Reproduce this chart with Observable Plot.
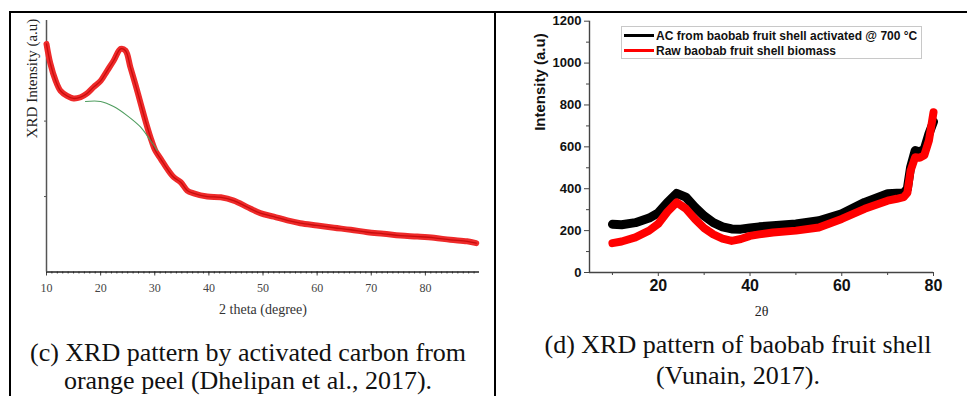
<!DOCTYPE html>
<html>
<head>
<meta charset="utf-8">
<script src="https://cdn.jsdelivr.net/npm/d3@7"></script>
<script src="https://cdn.jsdelivr.net/npm/@observablehq/plot@0.6"></script>
<style>
  html, body { margin: 0; padding: 0; background: #fff; }
  body { width: 967px; height: 396px; position: relative; overflow: hidden; }
  .line { position: absolute; background: #000; }
  .cap { position: absolute; font-family: "Liberation Serif", "Times New Roman", serif; font-size: 26px; line-height: 28px; text-align: center; color: #111; white-space: nowrap; }
  #left, #right { position: absolute; }
  #legend { position: absolute; left: 621px; top: 26px; width: 299px; height: 31px; border: 1px solid #c8c8c8; background: #fff;
    font-family: "Liberation Sans", Arial, sans-serif; font-weight: bold; font-size: 12px; color: #111; }
  #legend .row { position: absolute; left: 2px; height: 15px; display: flex; align-items: center; white-space: nowrap; }
  #legend .sw { width: 30px; height: 3px; margin-right: 2px; }
</style>
</head>
<body>
<div class="line" style="left:10px;top:11px;width:957px;height:2px"></div>
<div class="line" style="left:9px;top:11px;width:2px;height:385px"></div>
<div class="line" style="left:494px;top:11px;width:2px;height:385px"></div>
<div id="left" style="left:11px;top:12px"></div>
<div id="right" style="left:497px;top:12px"></div>
<div id="legend"></div>
<div class="cap" style="left:11px;width:474px;top:339px">(c) XRD pattern by activated carbon from<br>orange peel (Dhelipan et al., 2017).</div>
<div class="cap" style="left:496px;width:484px;top:329px;line-height:31px">(d) XRD pattern of baobab fruit shell<br>(Vunain, 2017).</div>
<script>
// ---------- Left chart (c): orange peel activated carbon ----------
const leftTheta = [10.0, 10.7, 11.7, 12.6, 13.8, 15.0, 16.3, 17.5, 18.7, 20.0, 21.2, 22.4, 23.7, 24.6, 25.5, 26.4, 27.4, 28.3, 29.2, 30.1, 31.1, 32.3, 33.5, 34.8, 36.0, 37.2, 39.7, 42.2, 44.6, 47.1, 49.5, 52.0, 54.5, 56.9, 60.0, 63.1, 66.2, 69.3, 72.3, 75.4, 78.5, 81.6, 84.6, 87.7, 89.4];
const leftIntensity = [90.7, 83, 76, 72, 70, 69, 69.5, 71, 73.5, 76, 80, 84, 88.7, 88, 81.4, 74.8, 67, 60, 53.6, 48.3, 45, 41, 37.7, 35.7, 32.4, 31.3, 30, 29.7, 28.4, 25.8, 23.4, 22, 20.5, 19.4, 18.5, 17.6, 16.8, 15.8, 15.2, 14.5, 14.1, 13.6, 12.8, 12.2, 11.5];
const baseTheta = [17.2, 20.0, 22.4, 24.9, 27.4, 29.2, 30.5];
const baseIntensity = [67.8, 67.8, 65.8, 62.2, 57.6, 52.3, 48.3];
const leftXTicks = [10, 20, 30, 40, 50, 60, 70, 80];
const leftXMinor = d3.range(10, 90, 1);
const leftYTicks = [30, 60, 90];
const leftYLabel = "XRD Intensity (a.u)";
const leftXLabel = "2 theta (degree)";

const leftData = leftTheta.map((x, i) => ({x, y: leftIntensity[i]}));
const baseData = baseTheta.map((x, i) => ({x, y: baseIntensity[i]}));

const serif = "Liberation Serif, Times New Roman, serif";
const leftPlot = Plot.plot({
  width: 483, height: 318,
  marginLeft: 35, marginRight: 15, marginTop: 8, marginBottom: 58.5,
  x: {domain: [10, 90], label: null},
  y: {domain: [0, 100], label: null},
  style: {fontFamily: serif, background: "transparent", overflow: "visible"},
  marks: [
    Plot.axisX({ticks: leftXMinor, tickSize: 2, tickFormat: () => "", stroke: "#444", label: null}),
    Plot.axisX({ticks: leftXTicks, tickSize: 4, tickPadding: 7, fontSize: 12, fill: "#444", stroke: "#444", label: null, fontFamily: serif}),
    Plot.axisY({ticks: leftYTicks, tickSize: 2, tickFormat: () => "", stroke: "#555", label: null}),
    Plot.ruleY([0], {stroke: "#222", strokeWidth: 1.6}),
    Plot.ruleX([10], {stroke: "#555", strokeWidth: 1.5}),
    Plot.line(leftData, {x: "x", y: "y", stroke: "#ee2a2a", strokeWidth: 6, curve: "catmull-rom", strokeLinejoin: "round"}),
    Plot.line(leftData, {x: "x", y: "y", stroke: "#c80c0c", strokeWidth: 1.3, curve: "catmull-rom"}),
    Plot.line(baseData, {x: "x", y: "y", stroke: "#4f9d5f", strokeWidth: 1.1, curve: "catmull-rom"}),
    Plot.text([leftXLabel], {text: d => d, frameAnchor: "bottom", dy: 41.5, fontSize: 14, fill: "#333", fontFamily: serif}),
    Plot.text([leftYLabel], {text: d => d, frameAnchor: "left", dx: -14, dy: -8, rotate: -90, fontSize: 15, fill: "#222", fontFamily: serif})
  ]
});
document.getElementById("left").appendChild(leftPlot);

// ---------- Right chart (d): baobab fruit shell ----------
const rightTheta = [10, 12, 15, 18, 20, 22, 24, 26, 28, 30, 32, 34, 36, 38, 40, 42, 45, 50, 55, 60, 65, 70, 72, 73.5, 74.3, 75, 76, 77, 78, 79, 80];
const acIntensity = [230, 228, 238, 260, 285, 335, 378, 360, 312, 270, 238, 218, 208, 207, 213, 218, 223, 232, 247, 280, 335, 376, 378, 380, 400, 502, 582, 575, 590, 662, 720];
const rawIntensity = [140, 148, 168, 200, 233, 290, 335, 305, 255, 212, 182, 162, 151, 160, 175, 182, 191, 200, 215, 256, 304, 343, 352, 360, 380, 486, 550, 548, 560, 630, 765];
const rightXTicks = [20, 40, 60, 80];
const rightXMinor = [10, 30, 50, 70];
const rightYTicks = [0, 200, 400, 600, 800, 1000, 1200];
const rightYMinor = [100, 300, 500, 700, 900, 1100];
const seriesNames = ["AC from baobab fruit shell activated @ 700 °C", "Raw baobab fruit shell biomass"];
const seriesColors = ["#000000", "#ff0000"];
const rightYLabel = "Intensity (a.u)";
const rightXLabel = "2θ";

const acData = rightTheta.map((x, i) => ({x, y: acIntensity[i]}));
const rawData = rightTheta.map((x, i) => ({x, y: rawIntensity[i]}));

const sans = "Liberation Sans, Arial, sans-serif";
const rightPlot = Plot.plot({
  width: 470, height: 318,
  marginLeft: 92, marginRight: 34, marginTop: 8.7, marginBottom: 58,
  x: {domain: [5, 80], label: null},
  y: {domain: [0, 1200], label: null},
  style: {fontFamily: sans, background: "transparent", overflow: "visible"},
  marks: [
    Plot.axisX({ticks: rightXMinor, tickSize: 3, tickFormat: () => "", stroke: "#444", label: null}),
    Plot.axisX({ticks: rightXTicks, tickSize: 4, tickPadding: 3, fontSize: 16, fontWeight: "bold", fill: "#111", stroke: "#444", label: null, tickFormat: "d"}),
    Plot.axisY({ticks: rightYMinor, tickSize: 3, tickFormat: () => "", stroke: "#444", label: null}),
    Plot.axisY({ticks: rightYTicks, tickSize: 5, tickPadding: 3, fontSize: 13, fontWeight: "bold", fill: "#111", stroke: "#444", label: null, tickFormat: "d"}),
    Plot.ruleY([0], {stroke: "#444", strokeWidth: 1.4}),
    Plot.ruleX([5], {stroke: "#444", strokeWidth: 1.4}),
    Plot.line(acData, {x: "x", y: "y", stroke: seriesColors[0], strokeWidth: 9, strokeLinejoin: "round"}),
    Plot.line(rawData, {x: "x", y: "y", stroke: seriesColors[1], strokeWidth: 8, strokeLinejoin: "round"}),
    Plot.text([rightXLabel], {text: d => d, frameAnchor: "bottom", dy: 43, fontSize: 14, fill: "#222", fontFamily: serif}),
    Plot.text([rightYLabel], {text: d => d, frameAnchor: "left", dx: -49, dy: -16, rotate: -90, fontSize: 15, fontWeight: "bold", fill: "#111", fontFamily: sans})
  ]
});
document.getElementById("right").appendChild(rightPlot);

// legend
const legend = document.getElementById("legend");
seriesNames.forEach((name, i) => {
  const row = document.createElement("div");
  row.className = "row";
  row.style.top = (i === 0 ? 1 : 16) + "px";
  const sw = document.createElement("div");
  sw.className = "sw";
  sw.style.background = seriesColors[i];
  const t = document.createElement("span");
  t.textContent = name;
  row.appendChild(sw);
  row.appendChild(t);
  legend.appendChild(row);
});
</script>
</body>
</html>
